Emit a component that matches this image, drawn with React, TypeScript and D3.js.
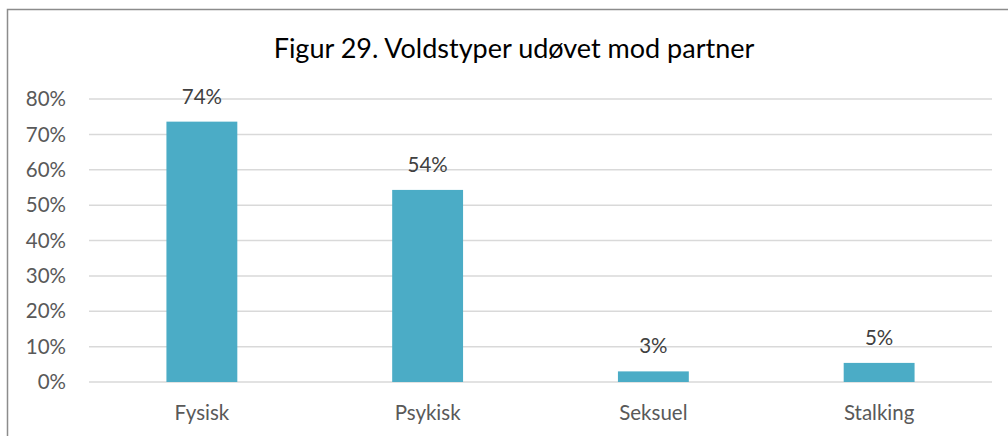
import React from "react";
import * as d3 from "d3";

const categories = ["Fysisk", "Psykisk", "Seksuel", "Stalking"];
const values = [0.736, 0.543, 0.03, 0.054];
const valueLabels = ["74%", "54%", "3%", "5%"];
const yTicks = [0, 0.1, 0.2, 0.3, 0.4, 0.5, 0.6, 0.7, 0.8];
const title = "Figur 29. Voldstyper udøvet mod partner";

export default function App() {
  const W = 1008, H = 436;
  const left = 89, right = 992, top = 99, bottom = 382;
  const x = d3.scaleBand<string>().domain(categories).range([left, right]).paddingInner(0.686).paddingOuter(0.343);
  const y = d3.scaleLinear().domain([0, 0.8]).range([bottom, top]);
  const font = "Lato, 'Open Sans', sans-serif";
  const fmt = d3.format(".0%");
  return (
    <svg width={W} height={H} style={{ position: "absolute", left: 0, top: 0 }} fontFamily={font}>
      <rect x={0} y={0} width={W} height={H} fill="#fff" />
      <path d={`M7.5,${H + 2}V9.5H${W + 2}`} fill="none" stroke="#8c8c8c" strokeWidth={1.5} />
      <text x={514} y={58} textAnchor="middle" fontSize={27} fill="#000">{title}</text>
      {yTicks.map((t) => (
        <g key={t}>
          <line x1={left} x2={right} y1={y(t)} y2={y(t)} stroke="#d9d9d9" strokeWidth={1.5} />
          <text x={66} y={y(t)} dy="0.35em" textAnchor="end" fontSize={20.5} fill="#595959">{fmt(t)}</text>
        </g>
      ))}
      {categories.map((c, i) => (
        <g key={c}>
          <rect x={x(c)} y={y(values[i])} width={x.bandwidth()} height={bottom - y(values[i])} fill="#4bacc6" />
          <text x={(x(c) ?? 0) + x.bandwidth() / 2} y={y(values[i]) - 18} textAnchor="middle" fontSize={20.5} fill="#404040">{valueLabels[i]}</text>
          <text x={(x(c) ?? 0) + x.bandwidth() / 2} y={420} textAnchor="middle" fontSize={20.5} fill="#595959">{c}</text>
        </g>
      ))}
    </svg>
  );
}
